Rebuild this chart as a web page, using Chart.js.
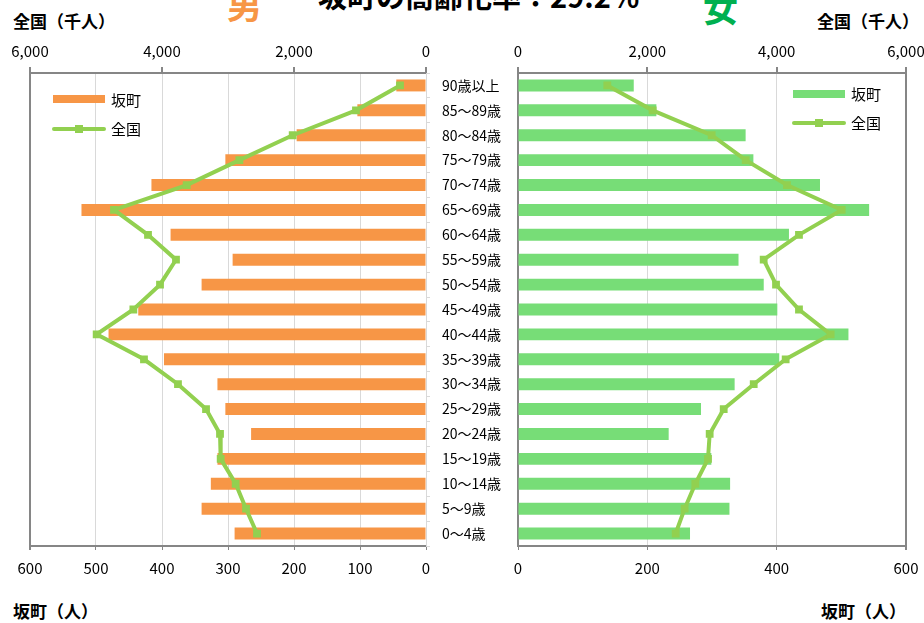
<!DOCTYPE html>
<html>
<head>
<meta charset="utf-8">
<script src="https://cdn.jsdelivr.net/npm/chart.js@4.4.0/dist/chart.umd.min.js"></script>
<style>
  body { margin: 0; width: 924px; height: 623px; overflow: hidden; background: #fff; position: relative;
         font-family: "Noto Sans CJK JP", "Noto Sans", sans-serif; color: #000; }
  canvas { position: absolute; top: 0; }
  .t { position: absolute; white-space: nowrap; line-height: 1; }
  .b { font-weight: bold; }
  .sw { position: absolute; }
</style>
</head>
<body>
<div class="t b" style="left:318px; top:-19px; font-size:29px;">坂町の高齢化率：29.2％</div>
<div class="t b" style="left:227px; top:-14px; font-size:35px; color:#f79646;">男</div>
<div class="t b" style="left:703px; top:-11px; font-size:35px; color:#00b050;">女</div>
<div class="t b" style="left:13px; top:12px; font-size:17px;">全国（千人）</div>
<div class="t b" style="left:817px; top:12px; font-size:17px;">全国（千人）</div>
<div class="t b" style="left:13px; top:602px; font-size:17px;">坂町（人）</div>
<div class="t b" style="left:821px; top:602px; font-size:17px;">坂町（人）</div>

<canvas id="male" width="440" height="623" style="left:0"></canvas>
<canvas id="female" width="494" height="623" style="left:430px"></canvas>

<!-- legends -->
<div class="sw" style="left:53px; top:95px; width:52px; height:8px; background:#f79646;"></div>
<div class="t" style="left:111px; top:92px; font-size:15px;">坂町</div>
<div class="sw" style="left:52px; top:127px; width:54px; height:4px; background:#92d050; border-radius:2px;"></div>
<div class="sw" style="left:75px; top:125px; width:8px; height:8px; background:#92d050;"></div>
<div class="t" style="left:111px; top:121px; font-size:15px;">全国</div>

<div class="sw" style="left:793px; top:90px; width:52px; height:8px; background:#77dd77;"></div>
<div class="t" style="left:851px; top:86px; font-size:15px;">坂町</div>
<div class="sw" style="left:792px; top:121px; width:54px; height:4px; background:#92d050; border-radius:2px;"></div>
<div class="sw" style="left:815px; top:119px; width:8px; height:8px; background:#92d050;"></div>
<div class="t" style="left:851px; top:115px; font-size:15px;">全国</div>

<script>
const ageLabels = ['90歳以上', '85～89歳', '80～84歳', '75～79歳', '70～74歳', '65～69歳', '60～64歳',
  '55～59歳', '50～54歳', '45～49歳', '40～44歳', '35～39歳', '30～34歳', '25～29歳', '20～24歳',
  '15～19歳', '10～14歳', '5～9歳', '0～4歳'];

// 坂町 (persons)
const maleTown = [45, 104, 196, 304, 416, 522, 387, 293, 340, 436, 481, 397, 316, 304, 265, 316, 326, 340, 290];
const femaleTown = [179, 214, 352, 364, 467, 543, 419, 341, 380, 401, 511, 404, 335, 283, 233, 299, 328, 327, 266];

// 全国 (thousand persons)
const maleNation = [394, 1061, 2020, 2828, 3626, 4727, 4212, 3788, 4030, 4434, 4990, 4273, 3758, 3333, 3121, 3111, 2884, 2727, 2561];
const femaleNation = [1381, 2082, 2995, 3521, 4160, 5005, 4345, 3799, 3990, 4345, 4835, 4139, 3645, 3181, 2964, 2938, 2742, 2577, 2438];

const townMax = 600;
const nationMax = 6000;

const AXIS = '#868686';
const GRID = '#d9d9d9';
const LINE = '#92d050';
const tickFont = { family: '"Noto Sans CJK JP", sans-serif', size: 15 };

const noPadX = (height) => (s) => { s.height = height; s.paddingLeft = 0; s.paddingRight = 0; };

const nationLine = (data) => ({
  type: 'line',
  label: '全国',
  data,
  indexAxis: 'y',
  xAxisID: 'xTop',
  yAxisID: 'y',
  borderColor: LINE,
  backgroundColor: LINE,
  borderWidth: 4,
  pointStyle: 'rect',
  pointRadius: 5.5,
  pointBorderWidth: 0,
  tension: 0,
  order: 1
});

const townBars = (data, color) => ({
  type: 'bar',
  label: '坂町',
  data,
  indexAxis: 'y',
  xAxisID: 'xBottom',
  yAxisID: 'y',
  backgroundColor: color,
  barPercentage: 0.48,
  categoryPercentage: 1,
  order: 2
});

const edgeColor = (ctx) => ctx.tick && ctx.tick.value === townMax ? AXIS : GRID;
const edgeWidth = (ctx) => ctx.tick && ctx.tick.value === townMax ? 2 : 1;

const xScales = (reverse, townStep) => ({
  xBottom: {
    type: 'linear', axis: 'x', position: 'bottom', reverse,
    min: 0, max: townMax,
    ticks: { stepSize: townStep, font: tickFont, color: '#000', padding: 9 },
    grid: { color: edgeColor, lineWidth: edgeWidth, tickColor: AXIS, tickLength: 4 },
    border: { color: AXIS, width: 2 },
    afterFit: noPadX(623 - 546)
  },
  xTop: {
    type: 'linear', axis: 'x', position: 'top', reverse,
    min: 0, max: nationMax,
    ticks: { stepSize: 2000, font: tickFont, color: '#000', padding: 7,
             callback: (v) => v.toLocaleString('en-US') },
    grid: { drawOnChartArea: false, color: AXIS, tickLength: 6, lineWidth: 2 },
    border: { color: AXIS, width: 2 },
    afterFit: noPadX(73)
  }
});

const baseOptions = {
  indexAxis: 'y',
  responsive: false,
  animation: false,
  plugins: { legend: { display: false }, tooltip: { enabled: false } }
};

// 男
new Chart(document.getElementById('male'), {
  type: 'bar',
  data: {
    labels: ageLabels,
    datasets: [nationLine(maleNation), townBars(maleTown, '#f79646')]
  },
  options: {
    ...baseOptions,
    layout: { padding: { left: 30, right: 0, top: 0, bottom: 0 } },
    scales: {
      ...xScales(true, 100),
      y: {
        type: 'category', position: 'right',
        ticks: { display: false },
        grid: { drawOnChartArea: false, color: GRID, tickLength: 4 },
        border: { color: GRID, width: 1 },
        afterFit: (s) => { s.width = 14; s.paddingTop = 0; s.paddingBottom = 0; }
      }
    }
  }
});

// 女
new Chart(document.getElementById('female'), {
  type: 'bar',
  data: {
    labels: ageLabels,
    datasets: [nationLine(femaleNation), townBars(femaleTown, '#77dd77')]
  },
  options: {
    ...baseOptions,
    layout: { padding: { left: 12, right: 18, top: 0, bottom: 0 } },
    scales: {
      ...xScales(false, 200),
      y: {
        type: 'category', position: 'left',
        ticks: { crossAlign: 'far', font: { family: '"Noto Sans CJK JP", sans-serif', size: 14 }, color: '#000', padding: 4 },
        grid: { drawOnChartArea: false, display: true, tickLength: 0 },
        border: { color: AXIS, width: 2 },
        afterFit: (s) => { s.width = 76; s.paddingTop = 0; s.paddingBottom = 0; }
      }
    }
  }
});
</script>
</body>
</html>
